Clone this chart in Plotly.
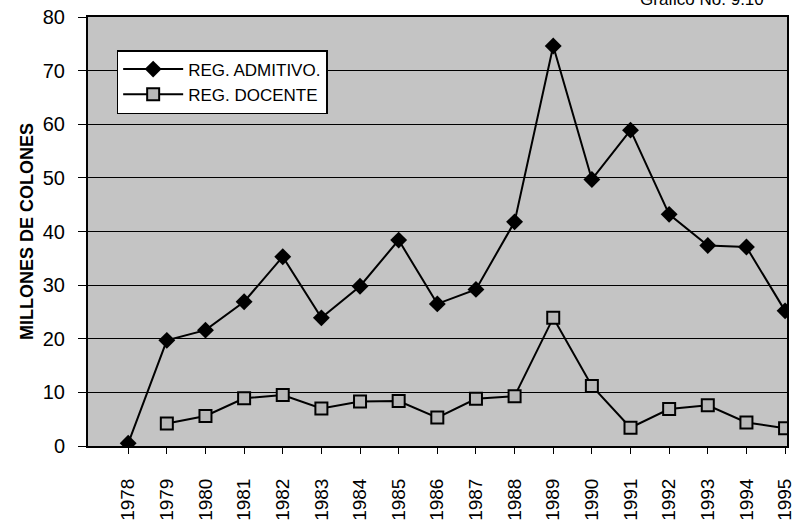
import plotly.graph_objects as go

years = list(range(1978, 1996))
year_labels = [str(y) for y in years]
admitivo = [0.5, 19.7, 21.6, 26.9, 35.3, 23.9, 29.8, 38.4, 26.5, 29.2,
            41.8, 74.6, 49.7, 58.9, 43.2, 37.4, 37.1, 25.2]
docente = [None, 4.2, 5.6, 8.9, 9.5, 7.0, 8.3, 8.4, 5.3, 8.8,
           9.3, 23.9, 11.2, 3.4, 6.9, 7.6, 4.4, 3.3]

FONT = "Liberation Sans, Arial, sans-serif"

fig = go.Figure()
fig.add_trace(go.Scatter(
    x=years, y=admitivo, mode="lines+markers", name="REG. ADMITIVO.",
    line=dict(color="black", width=2),
    marker=dict(symbol="diamond", size=13, color="black"),
))
fig.add_trace(go.Scatter(
    x=years, y=docente, mode="lines+markers", name="REG. DOCENTE",
    line=dict(color="black", width=2),
    marker=dict(symbol="square", size=12, color="#b8b8b8",
                line=dict(color="black", width=2)),
))

fig.update_layout(
    width=795, height=524,
    margin=dict(l=88, r=8, t=17, b=78),
    paper_bgcolor="white",
    plot_bgcolor="#c4c4c4",
    font=dict(family=FONT, color="black", size=16),
    showlegend=True,
    legend=dict(
        x=0.041, y=0.923, xanchor="left", yanchor="top",
        bgcolor="white", bordercolor="black", borderwidth=1.5,
        font=dict(size=17, family=FONT),
        itemwidth=60, tracegroupgap=6,
    ),
    xaxis=dict(
        range=[1976.96, 1995.05], automargin=False,
        tickmode="array", tickvals=years, ticktext=year_labels,
        tickangle=-90, ticks="outside", ticklen=6, tickcolor="black",
        ticklabelstandoff=17, ticklabeloverflow="allow",
        showgrid=False, zeroline=False,
        showline=True, linecolor="black", linewidth=2, mirror=True,
        tickfont=dict(size=19),
    ),
    yaxis=dict(
        range=[0, 80], tickvals=[0, 10, 20, 30, 40, 50, 60, 70, 80],
        automargin=False,
        ticks="outside", ticklen=8, tickcolor="black",
        ticklabelstandoff=9,
        showgrid=True, gridcolor="black", gridwidth=1,
        zeroline=False,
        showline=True, linecolor="black", linewidth=2, mirror=True,
        tickfont=dict(size=20),
        title=dict(text="<b>MILLONES DE COLONES</b>", font=dict(size=18), standoff=4),
    ),
)

fig.add_annotation(
    text="Gráfico No. 9.10", xref="paper", yref="paper",
    x=0.97, y=1 + 17 / 429, xanchor="right", yanchor="middle",
    showarrow=False, font=dict(size=17, family=FONT),
)

fig.write_html(
    "out.html",
    config={"displayModeBar": False},
    post_script="document.body.style.margin='0';document.body.style.padding='0';",
)
